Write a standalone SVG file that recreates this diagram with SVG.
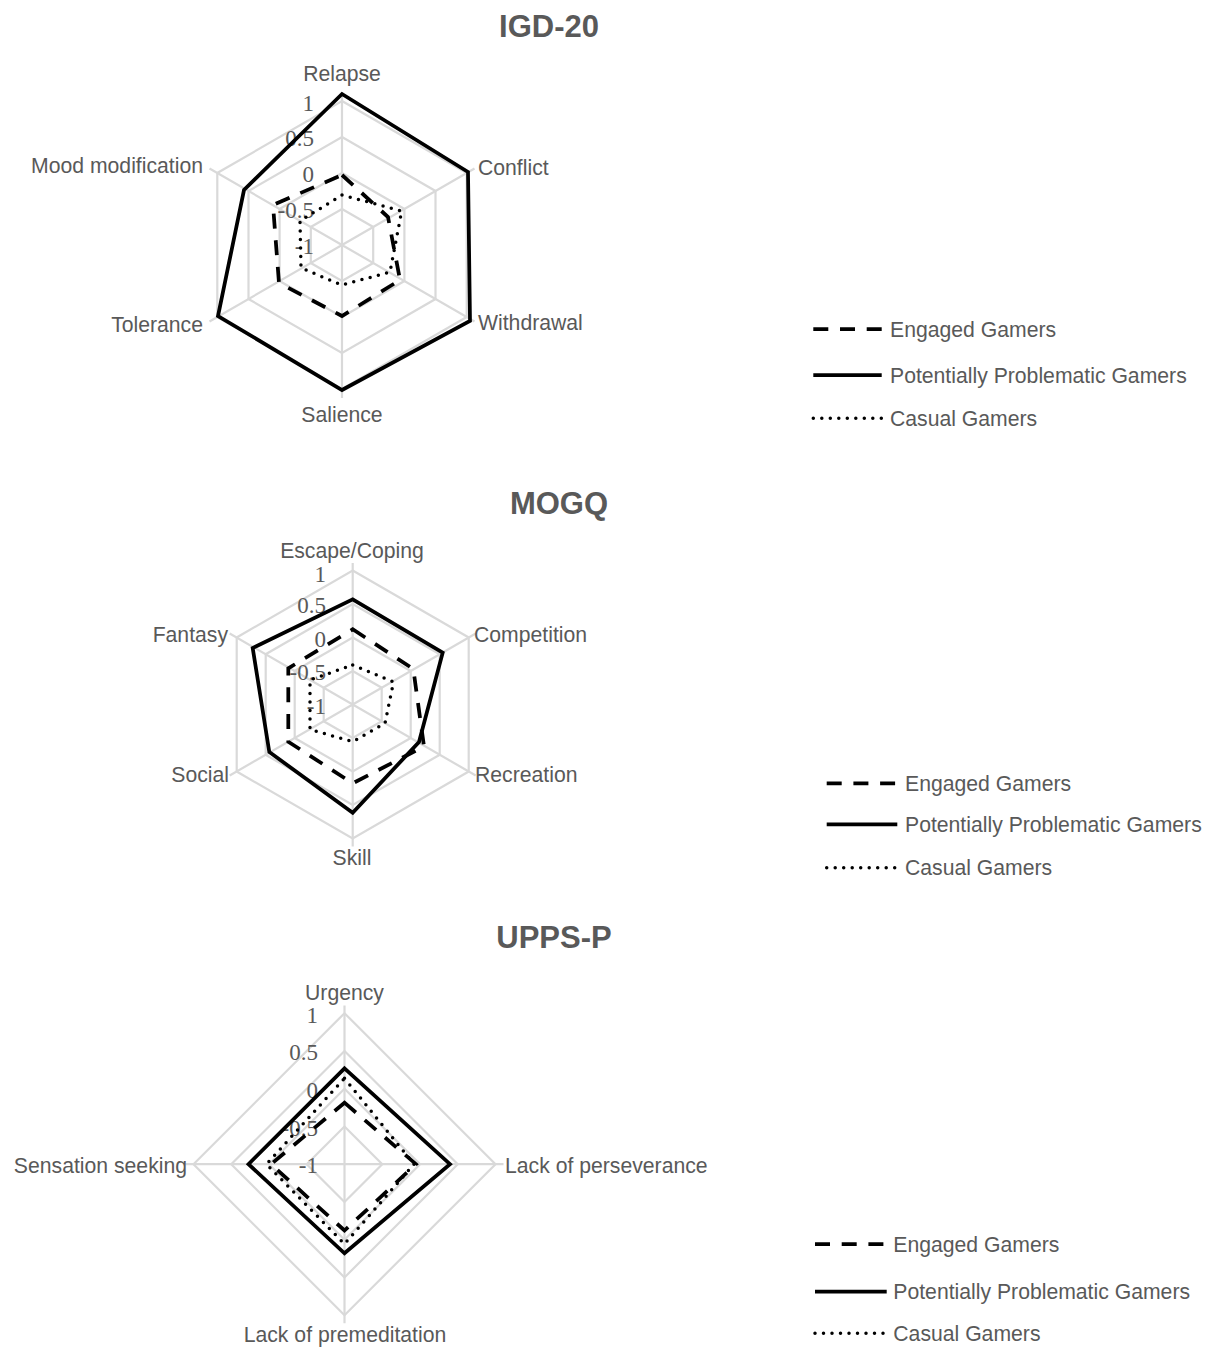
<svg xmlns="http://www.w3.org/2000/svg" width="1206" height="1348" viewBox="0 0 1206 1348">
<style>
.bg{fill:#fff}
.grid{fill:none;stroke:#D9D9D9;stroke-width:2.2}
.title{font-family:"Liberation Sans",Arial,sans-serif;font-weight:bold;font-size:31px;fill:#595959;text-anchor:middle}
.cat{font-family:"Liberation Sans",Arial,sans-serif;font-size:21.2px;fill:#595959}
.tick{font-family:"Liberation Serif","Times New Roman",serif;font-size:23px;fill:#595959;text-anchor:end}
.leg{font-family:"Liberation Sans",Arial,sans-serif;font-size:21.2px;fill:#595959}
.mid{text-anchor:middle}
.end{text-anchor:end}
.s{fill:none;stroke:#000;stroke-width:3.75;stroke-linejoin:miter}
.d{fill:none;stroke:#000;stroke-width:3.75;stroke-dasharray:15 11.7;stroke-linejoin:miter}
.o{fill:none;stroke:#000;stroke-width:3.5;stroke-dasharray:0 8.5;stroke-linecap:round}
</style>
<rect class="bg" x="0" y="0" width="1206" height="1348"/>

<!-- IGD-20 -->
<g id="igd20">
  <text class="title" x="549" y="37">IGD-20</text>
  <g id="igd-grid" class="grid">
    <polygon points="342,209 373.2,227 373.2,263 342,281 310.8,263 310.8,227"/>
    <polygon points="342,173 404.4,209 404.4,281 342,317 279.6,281 279.6,209"/>
    <polygon points="342,137 435.5,191 435.5,299 342,353 248.5,299 248.5,191"/>
    <polygon points="342,101 466.7,173 466.7,317 342,389 217.3,317 217.3,173"/>
    <path d="M342,245L342,92M342,245L474.5,168.5M342,245L474.5,321.5M342,245L342,398M342,245L209.5,321.5M342,245L209.5,168.5"/>
  </g>
  <g id="igd-ticks">
    <text class="tick" x="314" y="110.5">1</text>
    <text class="tick" x="314" y="146">0.5</text>
    <text class="tick" x="314" y="182">0</text>
    <text class="tick" x="314" y="218">-0.5</text>
    <text class="tick" x="314" y="254">-1</text>
  </g>
  <g id="igd-labels">
    <text class="cat mid" x="342" y="80.5">Relapse</text>
    <text class="cat" x="478" y="175">Conflict</text>
    <text class="cat" x="478" y="330">Withdrawal</text>
    <text class="cat mid" x="342" y="422">Salience</text>
    <text class="cat end" x="203" y="331.5">Tolerance</text>
    <text class="cat end" x="203" y="173">Mood modification</text>
  </g>
  <g id="igd-series">
    <polygon class="d" points="342,175 388,217 400,280 342,316 279,283 273,205"/>
    <polygon class="s" points="342,94 468,172 470,321 342,390 218,316 244,190"/>
    <polygon class="o" points="342,195 401.7,211 390,272 342,285 301,268 300,221"/>
  </g>
  <g id="igd-legend">
    <line class="d" x1="813.3" y1="329" x2="881.7" y2="329"/>
    <text class="leg" x="890" y="336.7">Engaged Gamers</text>
    <line class="s" x1="813.3" y1="375" x2="881.7" y2="375"/>
    <text class="leg" x="890" y="382.5">Potentially Problematic Gamers</text>
    <line class="o" x1="813.3" y1="418.3" x2="881.7" y2="418.3"/>
    <text class="leg" x="890" y="426">Casual Gamers</text>
  </g>
</g>

<!-- MOGQ -->
<g id="mogq">
  <text class="title" x="559" y="514">MOGQ</text>
  <g id="mogq-grid" class="grid">
    <polygon points="352.7,671 381.7,687.75 381.7,721.25 352.7,738 323.7,721.25 323.7,687.75"/>
    <polygon points="352.7,637.5 410.7,671 410.7,738 352.7,771.5 294.7,738 294.7,671"/>
    <polygon points="352.7,604 439.7,654.25 439.7,754.75 352.7,805 265.7,754.75 265.7,654.25"/>
    <polygon points="352.7,570.5 468.7,637.5 468.7,771.5 352.7,838.5 236.7,771.5 236.7,637.5"/>
    <path d="M352.7,704.5L352.7,563M352.7,704.5L475.7,633.5M352.7,704.5L475.7,775.5M352.7,704.5L352.7,846.5M352.7,704.5L229.7,775.5M352.7,704.5L229.7,633.5"/>
  </g>
  <g id="mogq-ticks">
    <text class="tick" x="326" y="581.5">1</text>
    <text class="tick" x="326" y="613">0.5</text>
    <text class="tick" x="326" y="646.5">0</text>
    <text class="tick" x="326" y="680">-0.5</text>
    <text class="tick" x="326" y="713.5">-1</text>
  </g>
  <g id="mogq-labels">
    <text class="cat mid" x="352" y="558">Escape/Coping</text>
    <text class="cat" x="474" y="641.5">Competition</text>
    <text class="cat" x="475" y="781.5">Recreation</text>
    <text class="cat mid" x="352" y="865">Skill</text>
    <text class="cat end" x="229" y="781.5">Social</text>
    <text class="cat end" x="228" y="641.5">Fantasy</text>
  </g>
  <g id="mogq-series">
    <polygon class="d" points="352.7,629.3 413.3,669 424,746.5 352.7,783.3 288.3,741.7 288.3,668.3"/>
    <polygon class="s" points="352.7,599.3 442.7,652.7 419,742 352.7,812.7 269.3,752 252.7,648"/>
    <polygon class="o" points="352.7,665 393.5,682 385,723.3 352.7,741.7 310,729.5 310,680"/>
  </g>
  <g id="mogq-legend">
    <line class="d" x1="826.7" y1="783.3" x2="897.3" y2="783.3"/>
    <text class="leg" x="905" y="790.5">Engaged Gamers</text>
    <line class="s" x1="826.7" y1="824.3" x2="897.3" y2="824.3"/>
    <text class="leg" x="905" y="831.5">Potentially Problematic Gamers</text>
    <line class="o" x1="826.7" y1="867.7" x2="897.3" y2="867.7"/>
    <text class="leg" x="905" y="875">Casual Gamers</text>
  </g>
</g>

<!-- UPPS-P -->
<g id="uppsp">
  <text class="title" x="554" y="948">UPPS-P</text>
  <g id="upps-grid" class="grid">
    <polygon points="344.5,1126.45 382.25,1164.2 344.5,1201.95 306.75,1164.2"/>
    <polygon points="344.5,1088.7 420,1164.2 344.5,1239.7 269,1164.2"/>
    <polygon points="344.5,1050.95 457.75,1164.2 344.5,1277.45 231.25,1164.2"/>
    <polygon points="344.5,1013.2 495.5,1164.2 344.5,1315.2 193.5,1164.2"/>
    <path d="M344.5,1164.2L344.5,1005.5M344.5,1164.2L503.5,1164.2M344.5,1164.2L344.5,1323.2M344.5,1164.2L185.5,1164.2"/>
  </g>
  <g id="upps-ticks">
    <text class="tick" x="318" y="1023">1</text>
    <text class="tick" x="318" y="1060">0.5</text>
    <text class="tick" x="318" y="1097.7">0</text>
    <text class="tick" x="318" y="1135.5">-0.5</text>
    <text class="tick" x="318" y="1173.2">-1</text>
  </g>
  <g id="upps-labels">
    <text class="cat mid" x="344.5" y="1000">Urgency</text>
    <text class="cat" x="505" y="1173">Lack of perseverance</text>
    <text class="cat mid" x="345" y="1341.5">Lack of premeditation</text>
    <text class="cat end" x="187" y="1173">Sensation seeking</text>
  </g>
  <g id="upps-series">
    <polygon class="d" points="344.5,1102.7 416,1164.2 344.5,1230.5 271,1164.2"/>
    <polygon class="s" points="344.5,1068.3 450,1164.2 344.5,1253.3 248.5,1164.2"/>
    <polygon class="o" points="344.5,1078.3 414,1164.2 344.5,1244 266.5,1164.2"/>
  </g>
  <g id="upps-legend">
    <line class="d" x1="815" y1="1244" x2="886.7" y2="1244"/>
    <text class="leg" x="893.3" y="1251.5">Engaged Gamers</text>
    <line class="s" x1="815" y1="1291.7" x2="886.7" y2="1291.7"/>
    <text class="leg" x="893.3" y="1299">Potentially Problematic Gamers</text>
    <line class="o" x1="815" y1="1333.3" x2="886.7" y2="1333.3"/>
    <text class="leg" x="893.3" y="1340.7">Casual Gamers</text>
  </g>
</g>
</svg>
